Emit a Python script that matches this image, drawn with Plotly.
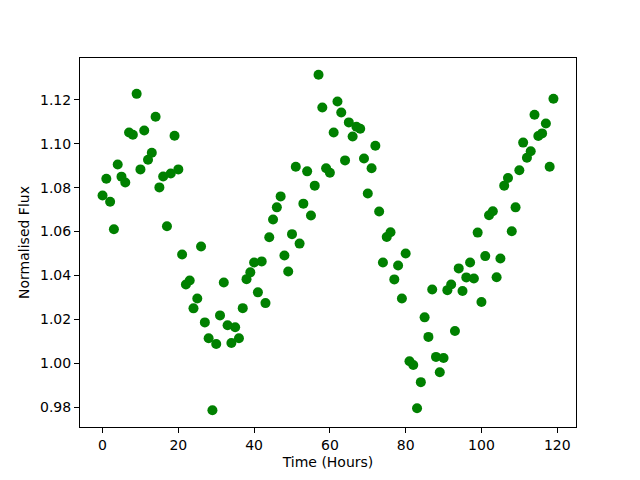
import plotly.graph_objects as go

time_hours = list(range(120))
flux = [
    1.0764, 1.0840, 1.0736, 1.0610, 1.0905, 1.0850, 1.0823, 1.1051, 1.1041, 1.1227,
    1.0883, 1.1060, 1.0927, 1.0959, 1.1123, 1.0801, 1.0851, 1.0624, 1.0864, 1.1036,
    1.0883, 1.0495, 1.0359, 1.0377, 1.0250, 1.0295, 1.0532, 1.0186, 1.0114, 0.9786,
    1.0088, 1.0218, 1.0368, 1.0173, 1.0092, 1.0164, 1.0114, 1.0251, 1.0383, 1.0414,
    1.0459, 1.0323, 1.0464, 1.0274, 1.0574, 1.0655, 1.0710, 1.0760, 1.0491, 1.0418,
    1.0588, 1.0895, 1.0545, 1.0727, 1.0874, 1.0673, 1.0809, 1.1314, 1.1165, 1.0888,
    1.0868, 1.1051, 1.1192, 1.1142, 1.0924, 1.1097, 1.1033, 1.1077, 1.1068, 1.0933,
    1.0773, 1.0888, 1.0991, 1.0691, 1.0459, 1.0575, 1.0597, 1.0382, 1.0445, 1.0295,
    1.0500, 1.0009, 0.9992, 0.9795, 0.9914, 1.0209, 1.0120, 1.0336, 1.0029, 0.9959,
    1.0024, 1.0333, 1.0359, 1.0147, 1.0432, 1.0329, 1.0391, 1.0459, 1.0386, 1.0595,
    1.0279, 1.0488, 1.0674, 1.0692, 1.0392, 1.0477, 1.0809, 1.0844, 1.0601, 1.0710,
    1.0879, 1.1005, 1.0936, 1.0966, 1.1132, 1.1035, 1.1047, 1.1092, 1.0895, 1.1205,
]

x_ticks = [0, 20, 40, 60, 80, 100, 120]
y_ticks = [0.98, 1.00, 1.02, 1.04, 1.06, 1.08, 1.10, 1.12]

xmin, xmax = min(time_hours), max(time_hours)
ymin, ymax = min(flux), max(flux)
xpad = 0.05 * (xmax - xmin)
ypad = 0.05 * (ymax - ymin)

FONT = dict(family="DejaVu Sans", size=14, color="black")

fig = go.Figure(
    go.Scatter(
        x=time_hours, y=flux, mode="markers",
        marker=dict(color="#008000", size=10, line=dict(width=0)),
    )
)

axis_common = dict(
    showline=True, linecolor="black", linewidth=1, mirror=True,
    ticks="outside", ticklen=5, tickwidth=1, tickcolor="black",
    showgrid=False, zeroline=False,
    tickfont=FONT,
)

fig.update_xaxes(
    range=[xmin - xpad, xmax + xpad], tickvals=x_ticks,
    ticktext=[str(v) for v in x_ticks],
    title=dict(text="Time (Hours)", font=FONT, standoff=5),
    **axis_common,
)
fig.update_yaxes(
    range=[ymin - ypad, ymax + ypad], tickvals=y_ticks,
    ticktext=[f"{v:.2f}" for v in y_ticks],
    title=dict(text="Normalised Flux", font=FONT, standoff=7),
    **axis_common,
)

# The page body adds an 8px offset, so the figure is sized/margined to compensate.
fig.update_layout(
    width=632, height=472,
    margin=dict(l=72, r=64, t=50, b=53, autoexpand=False),
    paper_bgcolor="white", plot_bgcolor="white",
    showlegend=False,
    font=FONT,
)

fig.write_html("out.html")
